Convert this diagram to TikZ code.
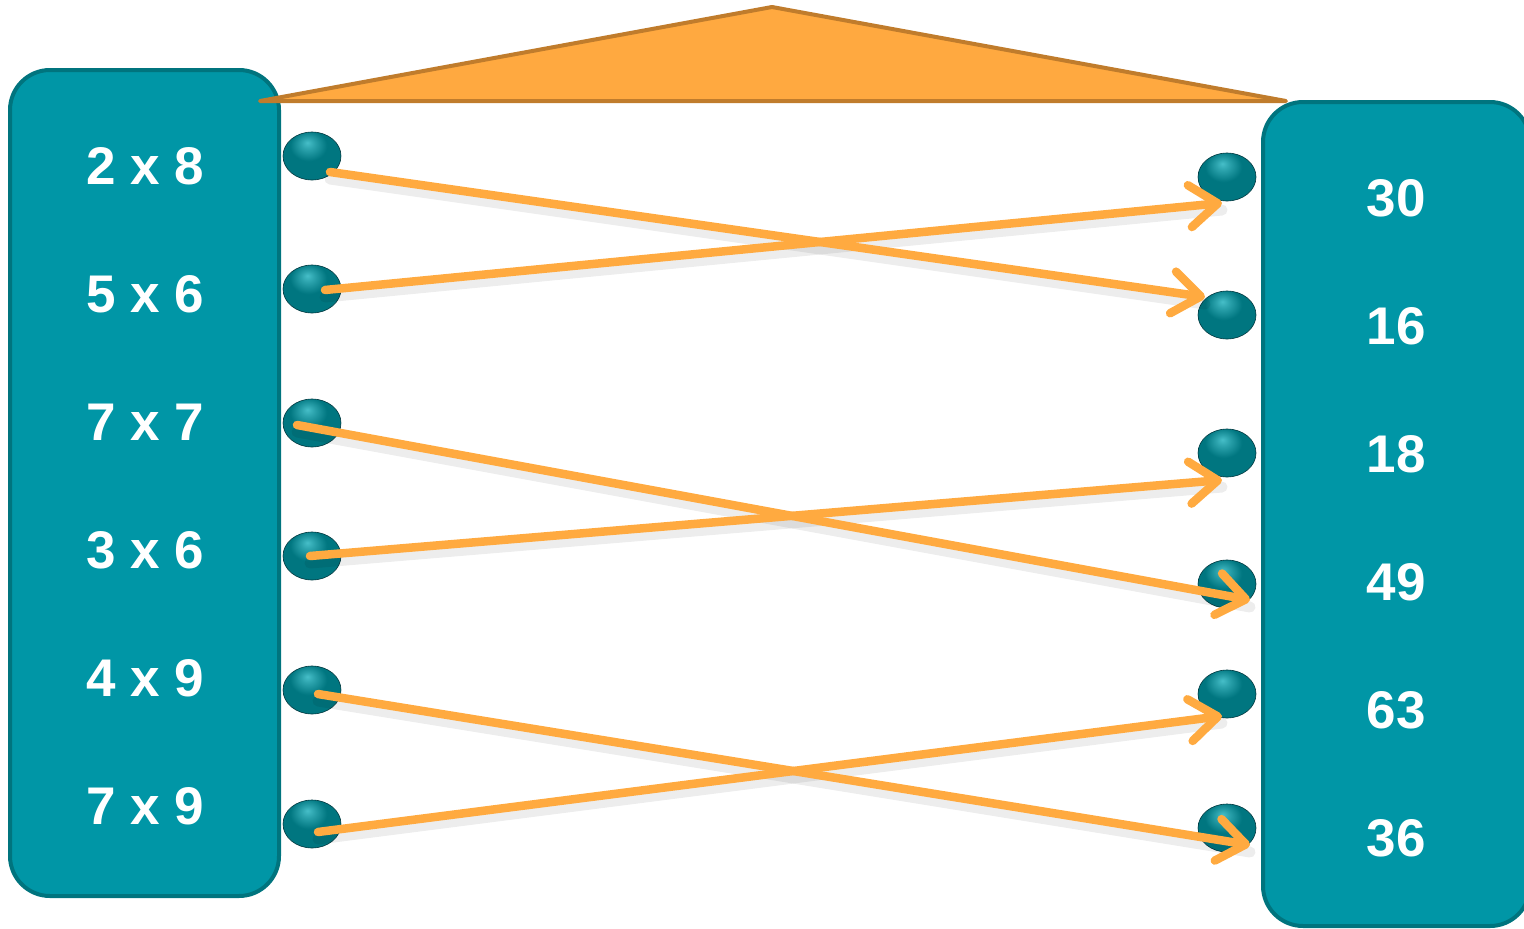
\documentclass[tikz,border=0pt]{standalone}
\usepackage{fontspec}
\setmainfont{Liberation Sans}
\usetikzlibrary{arrows.meta,shapes.geometric,calc}
\definecolor{boxteal}{RGB}{0,150,166}
\definecolor{boxedge}{RGB}{0,116,126}
\definecolor{dotlight}{RGB}{70,190,200}
\definecolor{dotmid}{RGB}{0,118,128}
\definecolor{dotdark}{RGB}{0,55,62}
\definecolor{arrorange}{RGB}{255,170,64}
\definecolor{trifill}{RGB}{255,169,64}
\definecolor{triedge}{RGB}{192,124,44}
\pgfdeclareradialshading{dotshade}{\pgfpoint{-4bp}{14bp}}{%
 color(0bp)=(dotlight); color(6bp)=(dotlight!60!dotmid); color(16bp)=(dotmid); color(36bp)=(dotmid); color(52bp)=(dotdark); color(70bp)=(dotdark)}
\begin{document}
\begin{tikzpicture}[x=1pt,y=-1pt,
 panel/.style={draw=boxedge,line width=4pt,fill=boxteal,rounded corners=40pt},
 label/.style={text=white,font=\fontsize{53}{57}\selectfont\bfseries},
 dot/.style={ellipse,minimum width=58pt,minimum height=48pt,inner sep=0pt,shading=dotshade,draw=dotdark,line width=0.6pt},
 link/.style={draw=arrorange,line width=8.5pt,line cap=round,-{Straight Barb[length=28pt,width=42pt,line cap=round,line join=round]}},
 linkshadow/.style={draw=black,opacity=0.07,line width=11pt,line cap=round},
]
\useasboundingbox (0,0) rectangle (1524,929);
\begin{scope}
\clip (0,0) rectangle (1524,929);
% panels
\draw[panel] (10,70) rectangle (279,896);
\draw[panel] (1263,102) rectangle (1530,926);
\end{scope}
% roof triangle
\draw[fill=trifill,draw=triedge,line width=4pt,line join=round,line cap=round] (260,101) -- (772,7) -- (1286,101) -- cycle;
% left labels
\node[label] (a1) at (145,166) {2 x 8};
\node[label] (a2) at (145,294) {5 x 6};
\node[label] (a3) at (145,422) {7 x 7};
\node[label] (a4) at (145,550) {3 x 6};
\node[label] (a5) at (145,678) {4 x 9};
\node[label] (a6) at (145,806) {7 x 9};
% right labels
\node[label] (b1) at (1396,198) {30};
\node[label] (b2) at (1396,326) {16};
\node[label] (b3) at (1396,454) {18};
\node[label] (b4) at (1396,582) {49};
\node[label] (b5) at (1396,710) {63};
\node[label] (b6) at (1396,838) {36};
% dots
\node[dot] (l1) at (312,156) {};
\node[dot] (l2) at (312,289) {};
\node[dot] (l3) at (312,423) {};
\node[dot] (l4) at (312,556) {};
\node[dot] (l5) at (312,690) {};
\node[dot] (l6) at (312,824) {};
\node[dot] (r1) at (1227,177) {};
\node[dot] (r2) at (1227,315) {};
\node[dot] (r3) at (1227,453) {};
\node[dot] (r4) at (1227,584) {};
\node[dot] (r5) at (1227,694) {};
\node[dot] (r6) at (1227,828) {};
% shadows
\draw[linkshadow] ($(l1)+(18,23)$) -- ($(r2)+(-22,-11)$);
\draw[linkshadow] ($(l2)+(13,8)$) -- ($(r1)+(-5,33)$);
\draw[linkshadow] ($(l3)+(-15,9)$) -- ($(r4)+(23,23)$);
\draw[linkshadow] ($(l4)+(-2,7)$) -- ($(r3)+(-5,34)$);
\draw[linkshadow] ($(l5)+(6,11)$) -- ($(r6)+(23,24)$);
\draw[linkshadow] ($(l6)+(6,15)$) -- ($(r5)+(-5,29)$);
% links
\draw[link] ($(l1)+(18,16)$) -- ($(r2)+(-22,-18)$);
\draw[link] ($(l2)+(13,1)$) -- ($(r1)+(-5,26)$);
\draw[link] ($(l3)+(-15,2)$) -- ($(r4)+(23,16)$);
\draw[link] ($(l4)+(-2,0)$) -- ($(r3)+(-5,27)$);
\draw[link] ($(l5)+(6,4)$) -- ($(r6)+(23,17)$);
\draw[link] ($(l6)+(6,8)$) -- ($(r5)+(-5,22)$);
\end{tikzpicture}
\end{document}
